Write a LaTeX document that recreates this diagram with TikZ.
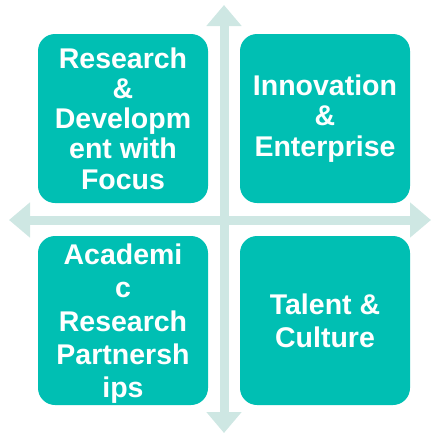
\documentclass[tikz,border=0pt]{standalone}
\usepackage{fontspec}
\setmainfont{Liberation Sans}
\usepackage{tikz}
\usetikzlibrary{arrows.meta, positioning}
\definecolor{quadcolor}{RGB}{0, 191, 179}
\definecolor{axiscolor}{RGB}{206, 231, 227}

\begin{document}
\begin{tikzpicture}[x=1pt, y=-1pt,
    quad/.style={rounded corners=17pt, fill=quadcolor, text=white, minimum width=170pt, minimum height=169pt, align=center, inner sep=0pt},
    axis/.style={line width=9pt, axiscolor, {Triangle[length=21pt, width=34pt]}-{Triangle[length=21pt, width=34pt]}}]
        \useasboundingbox (0, 0) rectangle (431, 434);

        % Axis ends
        \coordinate (top) at (224, 5);
        \coordinate (bottom) at (224, 433);
        \coordinate (left) at (9, 220);
        \coordinate (right) at (431, 220);

        % Axes
        \draw[axis] (bottom) -- (top);
        \draw[axis] (left) -- (right);

        % Top row
        \node[quad, font=\fontsize{28.5}{30.3}\selectfont\bfseries] (rd) at (123, 118.5) {Research\\\&\\Developm\\ent with\\Focus};
        \node[quad, font=\fontsize{28.5}{30.3}\selectfont\bfseries] (innov) at (325, 118.5) {Innovation\\\&\\Enterprise};

        % Bottom row
        \node[quad, font=\fontsize{28.5}{33.3}\selectfont\bfseries] (acad) at (123, 320.5) {\rule{0pt}{27pt}Academi\\c\\Research\\Partnersh\\ips};
        \node[quad, font=\fontsize{28.5}{33.3}\selectfont\bfseries] (talent) at (325, 320.5) {Talent \&\\Culture};
    \end{tikzpicture}
\end{document}
